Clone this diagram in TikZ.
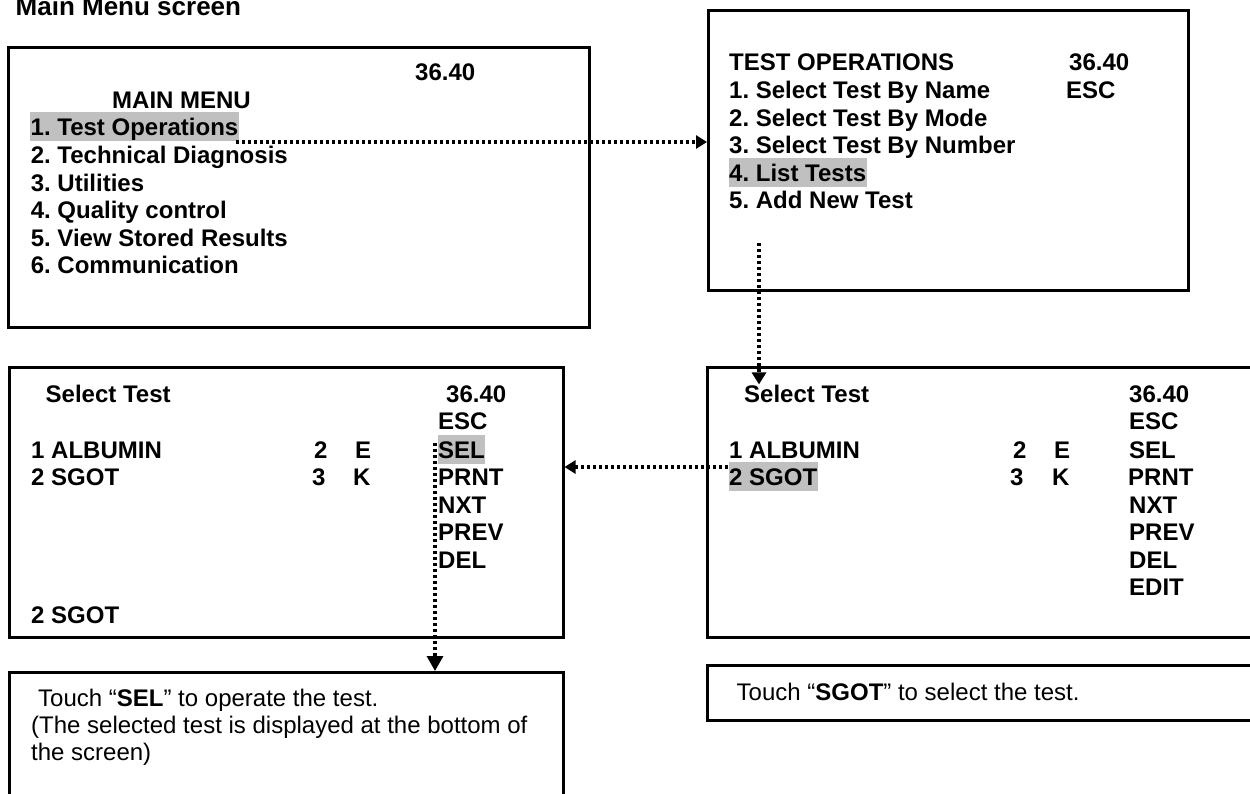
\documentclass[tikz,border=0pt]{standalone}
\usepackage{fontspec}
\setmainfont{Liberation Sans}
\usetikzlibrary{arrows.meta}
\definecolor{hl}{RGB}{192,192,192}
\frenchspacing
\tikzset{
  x=1pt, y=-1pt,
  screen/.style={draw=black, line width=2.5pt, anchor=north west, inner sep=0pt},
  txt/.style={anchor=base west, inner sep=0pt, font=\fontsize{24}{27.7}\selectfont\bfseries},
  plaintxt/.style={anchor=base west, inner sep=0pt, font=\fontsize{24}{27.7}\selectfont},
  hilite/.style={fill=hl, text height=23pt, text depth=6pt, inner xsep=0.5pt},
  link/.style={line width=3.2pt, dash pattern=on 3.2pt off 2.8pt, -{Triangle[length=12pt,width=14pt]}},
}
\begin{document}
\begin{tikzpicture}
\useasboundingbox (0,0) rectangle (1250,793);
\clip (0,0) rectangle (1250,793);

% heading
\node[anchor=base west, inner sep=0pt, font=\fontsize{26}{30}\selectfont\bfseries] (title) at (15.5,15) {Main Menu screen};

% main menu screen
\node[screen, minimum width=581pt, minimum height=280pt] (mainbox) at (7,46) {};
\node[txt] (mmclock) at (415,80) {36.40};
\node[txt] (mmhead) at (112,108) {MAIN MENU};
\node[txt, hilite] (mm1) at (30,135) {1. Test Operations};
\node[txt] (mm2) at (30.6,163) {2. Technical Diagnosis};
\node[txt] (mm3) at (30.6,191) {3. Utilities};
\node[txt] (mm4) at (30.6,218) {4. Quality control};
\node[txt] (mm5) at (30.6,246) {5. View Stored Results};
\node[txt] (mm6) at (30.6,273) {6. Communication};

% test operations screen
\node[screen, minimum width=480pt, minimum height=280pt] (opbox) at (707,9) {};
\node[txt] (ophead) at (729,70) {TEST OPERATIONS};
\node[txt] (opclock) at (1069,70) {36.40};
\node[txt] (op1) at (729,98) {1. Select Test By Name};
\node[txt] (opesc) at (1066,98) {ESC};
\node[txt] (op2) at (729,126) {2. Select Test By Mode};
\node[txt] (op3) at (729,153) {3. Select Test By Number};
\node[txt, hilite] (op4) at (728.5,181) {4. List Tests};
\node[txt] (op5) at (729,208) {5. Add New Test};

% test list screen (right)
\node[screen, minimum width=620pt, minimum height=270pt] (listbox) at (706,366) {};
\node[txt] (rtitle) at (744,402) {Select Test};
\node[txt] (rclock) at (1129,402) {36.40};
\node[txt] (resc) at (1129,429) {ESC};
\node[txt] (ralb) at (729,458) {1 ALBUMIN};
\node[txt] (ralbn) at (1013,458) {2};
\node[txt] (ralbu) at (1054,458) {E};
\node[txt] (rsel) at (1129,458) {SEL};
\node[txt, hilite] (rsgot) at (728.5,485) {2 SGOT};
\node[txt] (rsgotn) at (1010,485) {3};
\node[txt] (rsgotu) at (1052,485) {K};
\node[txt] (rprnt) at (1128,485) {PRNT};
\node[txt] (rnxt) at (1129,513) {NXT};
\node[txt] (rprev) at (1129,540) {PREV};
\node[txt] (rdel) at (1129,568) {DEL};
\node[txt] (redit) at (1129,595) {EDIT};

% test list screen with selection (left)
\node[screen, minimum width=554pt, minimum height=270pt] (selbox) at (8,366) {};
\node[txt] (ltitle) at (45.5,402) {Select Test};
\node[txt] (lclock) at (446,402) {36.40};
\node[txt] (lesc) at (438,429) {ESC};
\node[txt] (lalb) at (31,458) {1 ALBUMIN};
\node[txt] (lalbn) at (314,458) {2};
\node[txt] (lalbu) at (355,458) {E};
\node[txt, hilite] (lsel) at (437.5,458) {SEL};
\node[txt] (lsgot) at (31,485) {2 SGOT};
\node[txt] (lsgotn) at (312,485) {3};
\node[txt] (lsgotu) at (353,485) {K};
\node[txt] (lprnt) at (438,485) {PRNT};
\node[txt] (lnxt) at (438,513) {NXT};
\node[txt] (lprev) at (438,540) {PREV};
\node[txt] (ldel) at (438,568) {DEL};
\node[txt] (lchosen) at (31,623) {2 SGOT};

% instruction boxes
\node[screen, minimum width=554pt, minimum height=150pt] (hintL) at (8,671) {};
\node[plaintxt] (hintL1) at (38,706) {Touch “\textbf{SEL}” to operate the test.};
\node[plaintxt] (hintL2) at (31,733) {(The selected test is displayed at the bottom of};
\node[plaintxt] (hintL3) at (31,760) {the screen)};

\node[screen, minimum width=620pt, minimum height=55pt] (hintR) at (706,664) {};
\node[plaintxt] (hintR1) at (736.5,700) {Touch “\textbf{SGOT}” to select the test.};

% navigation links
\coordinate (a1) at (236,142);
\draw[link, -{Triangle[length=11pt,width=13pt]}] (a1) -- (a1 -| opbox.west);
\coordinate (a2) at (759,243);
\draw[link] (a2) -- (a2 |- rtitle.north);
\coordinate (a3) at (728,467);
\draw[link, -{Triangle[length=11pt,width=13pt]}] (a3) -- (a3 -| selbox.east);
\coordinate (a4) at (435,443);
\draw[link, -{Triangle[length=15pt,width=16pt]}] (a4) -- (a4 |- hintL.north);
\end{tikzpicture}
\end{document}
